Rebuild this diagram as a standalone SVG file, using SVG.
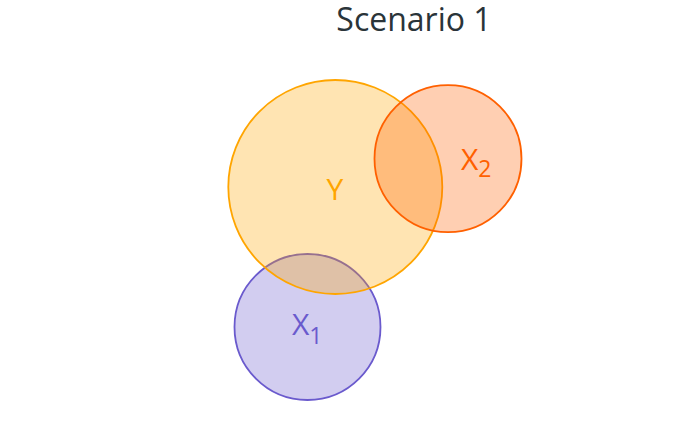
<svg xmlns="http://www.w3.org/2000/svg" width="700" height="432" viewBox="0 0 700 432">
<style>
.t{font-family:"Open Sans","Noto Sans","DejaVu Sans",sans-serif}
.c{stroke-width:1.8}
</style>
<rect width="700" height="432" fill="#ffffff"/>
<text class="t" x="414" y="31" font-size="32" fill="#2a3439" text-anchor="middle">Scenario 1</text>
<g id="X1">
<circle class="c" cx="307.5" cy="327" r="73" fill="#6a5acd" fill-opacity="0.3" stroke="#6a5acd"/>
</g>
<g id="Y">
<circle class="c" cx="335.3" cy="187" r="107" fill="#ffa500" fill-opacity="0.3" stroke="#ffa500"/>
</g>
<g id="X2">
<circle class="c" cx="448" cy="158.7" r="73.5" fill="#ff6000" fill-opacity="0.3" stroke="#ff6000"/>
</g>
<g id="connectors"/>
<g id="labels">
<text class="t" x="335" y="199.5" font-size="30" fill="#ffa500" text-anchor="middle">Y</text>
<text class="t" x="461" y="169.5" font-size="30" fill="#ff6000">X<tspan font-size="23" dy="7">2</tspan></text>
<text class="t" x="292" y="334.5" font-size="30" fill="#6a5acd">X<tspan font-size="23" dy="9">1</tspan></text>
</g>
</svg>
